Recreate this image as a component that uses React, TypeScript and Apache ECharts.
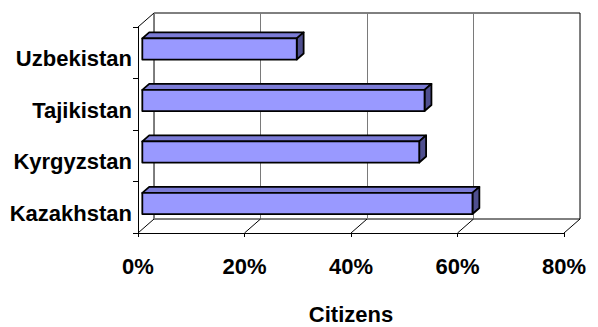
import React, { useEffect, useRef } from "react";
import * as echarts from "echarts";

// Share of citizens by country (percent), listed bottom to top
const categories = ["Kazakhstan", "Kyrgyzstan", "Tajikistan", "Uzbekistan"];
const citizenShare = [62, 52, 53, 29];
const xTicks = [0, 20, 40, 60, 80];

// depth of the 3D box (back wall offset from the front plane)
const DX = 16;
const DY = -14;
// bar depth placement as fractions of the box depth
const BAR_FRONT = 0.27;
const BAR_BACK = 0.7;
const BAR_THICK = 0.41;

const FONT = "'Liberation Sans', Arial, Helvetica, sans-serif";

export default function App() {
  const ref = useRef<HTMLDivElement>(null);

  useEffect(() => {
    if (!ref.current) return;
    const chart = echarts.init(ref.current, undefined, { renderer: "svg" });

    const option: any = {
      animation: false,
      backgroundColor: "#ffffff",
      grid: [
        // front plane
        { left: 138, right: 34, top: 27, bottom: 94, containLabel: false, outerBoundsMode: "none" },
        // back wall
        {
          left: 138 + DX,
          right: 34 - DX,
          top: 27 + DY,
          bottom: 94 - DY,
          containLabel: false,
          outerBoundsMode: "none",
          show: true,
          borderColor: "#000000",
          borderWidth: 1,
          backgroundColor: "transparent",
        },
      ],
      xAxis: [
        {
          type: "value",
          gridIndex: 0,
          min: 0,
          max: 80,
          interval: 20,
          axisLine: { show: true, lineStyle: { color: "#000", width: 1 } },
          axisTick: { show: true, length: 4, lineStyle: { color: "#000" } },
          splitLine: { show: false },
          axisLabel: {
            formatter: "{value}%",
            color: "#000",
            fontSize: 22,
            fontWeight: "bold",
            fontFamily: FONT,
            margin: 22,
          },
          name: "Citizens",
          nameLocation: "middle",
          nameGap: 70,
          nameTextStyle: {
            color: "#000",
            fontSize: 22,
            fontWeight: "bold",
            fontFamily: FONT,
          },
        },
        {
          type: "value",
          gridIndex: 1,
          min: 0,
          max: 80,
          interval: 20,
          axisLine: { show: false },
          axisTick: { show: false },
          axisLabel: { show: false },
          splitLine: { show: true, lineStyle: { color: "#7a7a7a", width: 1 } },
        },
      ],
      yAxis: [
        {
          type: "category",
          gridIndex: 0,
          data: categories,
          axisLine: { show: true, lineStyle: { color: "#000", width: 1 } },
          axisTick: { show: true, length: 5, lineStyle: { color: "#000" } },
          axisLabel: {
            color: "#000",
            fontSize: 22,
            fontWeight: "bold",
            fontFamily: FONT,
            margin: 6,
            verticalAlign: "top",
            lineHeight: 12,
          },
        },
        {
          type: "value",
          gridIndex: 1,
          show: false,
          min: 0,
          max: 1,
        },
      ],
      series: [
        {
          // floor diagonals and the top edge of the left wall
          type: "custom",
          xAxisIndex: 0,
          yAxisIndex: 0,
          data: xTicks.map((v) => [v, 0]),
          silent: true,
          renderItem: (params: any, api: any) => {
            const cs = params.coordSys;
            const x = api.coord([api.value(0), 0])[0];
            const yb = cs.y + cs.height;
            const children: any[] = [
              {
                type: "line",
                shape: { x1: x, y1: yb, x2: x + DX, y2: yb + DY },
                style: { stroke: "#000", lineWidth: 1 },
              },
            ];
            if (params.dataIndex === 0) {
              children.push({
                type: "line",
                shape: { x1: x, y1: cs.y, x2: x + DX, y2: cs.y + DY },
                style: { stroke: "#000", lineWidth: 1 },
              });
            }
            return { type: "group", children };
          },
          z: 1,
        },
        {
          // 3D bars
          type: "custom",
          xAxisIndex: 0,
          yAxisIndex: 0,
          data: citizenShare.map((v, i) => [v, i]),
          renderItem: (params: any, api: any) => {
            const val = api.value(0);
            const idx = api.value(1);
            const start = api.coord([0, idx]);
            const end = api.coord([val, idx]);
            const band = api.size([0, 1])[1];
            const h = band * BAR_THICK;
            const fx = DX * BAR_FRONT;
            const fy = DY * BAR_FRONT;
            const bx = DX * BAR_BACK;
            const by = DY * BAR_BACK;
            const x0 = start[0] + fx;
            const x1 = end[0] + fx;
            const yT = start[1] + fy - h / 2;
            const yB = start[1] + fy + h / 2;
            const ddx = bx - fx;
            const ddy = by - fy;
            const stroke = { stroke: "#000", lineWidth: 1.8, lineJoin: "round" };
            return {
              type: "group",
              children: [
                {
                  type: "polygon",
                  shape: {
                    points: [
                      [x0, yT],
                      [x0 + ddx, yT + ddy],
                      [x1 + ddx, yT + ddy],
                      [x1, yT],
                    ],
                  },
                  style: { fill: "#7b7bd6", ...stroke },
                },
                {
                  type: "polygon",
                  shape: {
                    points: [
                      [x1, yT],
                      [x1 + ddx, yT + ddy],
                      [x1 + ddx, yB + ddy],
                      [x1, yB],
                    ],
                  },
                  style: { fill: "#4f4f8f", ...stroke },
                },
                {
                  type: "rect",
                  shape: { x: x0, y: yT, width: x1 - x0, height: yB - yT },
                  style: { fill: "#9999ff", ...stroke },
                },
              ],
            };
          },
          z: 3,
        },
      ],
    };

    chart.setOption(option);
    return () => chart.dispose();
  }, []);

  return (
    <div
      ref={ref}
      style={{ position: "fixed", left: 0, top: 0, width: 598, height: 327, background: "#fff" }}
    />
  );
}
